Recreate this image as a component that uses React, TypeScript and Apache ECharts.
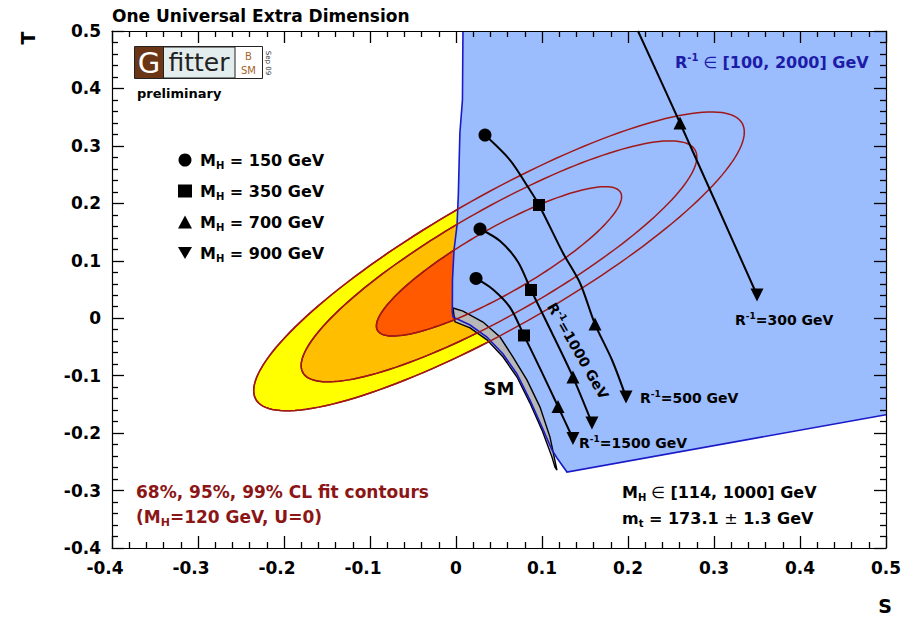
import { useEffect, useRef } from 'react';
import * as echarts from 'echarts';

// ---- axes -------------------------------------------------------------
const S_MIN = -0.4;
const S_MAX = 0.5;
const T_MIN = -0.4;
const T_MAX = 0.5;
const TICK_STEP = 0.1;
const S_TICK_LABELS = ['-0.4', '-0.3', '-0.2', '-0.1', '0', '0.1', '0.2', '0.3', '0.4', '0.5'];
const T_TICK_LABELS = ['-0.4', '-0.3', '-0.2', '-0.1', '0', '0.1', '0.2', '0.3', '0.4', '0.5'];

// ---- electroweak fit (M_H = 120 GeV, U = 0) ----------------------------
const FIT_CENTER = [0.05, 0.099];
const FIT_SIGMA = [0.094, 0.0857];
const FIT_CORR = 0.865;
// delta chi^2 for two parameters: 99 %, 95 %, 68 % CL (outermost first)
const CL_DCHI2 = [9.21, 5.99, 2.3];
const CL_FILL = ['#ffff00', '#ffbf00', '#ff5a00'];

// ---- UED prediction region, R^-1 in [100, 2000] GeV ----------------------
const UED_REGION = [
  [0.0081, 0.5], [0.0075, 0.38], [0.0045, 0.322], [0.0027, 0.2146], [0.0012, 0.162],
  [-0.0023, 0.1188], [-0.0041, 0.0665], [-0.0043, 0.0108], [-0.0035, 0.0021],
  [0.0163, -0.0118], [0.036, -0.0327], [0.0547, -0.0623], [0.0709, -0.0971],
  [0.086, -0.1424], [0.1, -0.1894], [0.1116, -0.2294], [0.1174, -0.2434],
  [0.1291, -0.2678], [0.5, -0.168], [0.5, 0.5],
];

// ---- SM prediction band, M_H in [114, 1000] GeV --------------------------
const SM_BAND_UPPER = [
  [-0.0035, 0.0178], [0.0081, 0.0125], [0.0314, -0.0066], [0.0512, -0.0327],
  [0.0663, -0.0676], [0.0826, -0.1077], [0.0977, -0.1547], [0.1093, -0.207], [0.1174, -0.2644],
];
const SM_BAND_LOWER = [
  [-0.0012, -0.0063], [0.0163, -0.0167], [0.036, -0.0376], [0.0547, -0.0676],
  [0.0709, -0.1024], [0.086, -0.1477], [0.1, -0.1948], [0.1116, -0.2418], [0.1151, -0.2592],
];

// ---- UED predictions at fixed R^-1 as M_H varies -------------------------
const CURVE_R300 = [[0.2116, 0.5], [0.2605, 0.3398], [0.35, 0.0404]];
const CURVE_R500 = [
  [0.0337, 0.3189], [0.0628, 0.2754], [0.0837, 0.2284], [0.0965, 0.1971], [0.1244, 0.1135],
  [0.1442, 0.0613], [0.1616, -0.0101], [0.1814, -0.0727], [0.1977, -0.1372],
];
const CURVE_R1000 = [
  [0.0279, 0.1553], [0.0512, 0.1344], [0.0721, 0.0979], [0.0872, 0.0491],
  [0.1116, -0.0258], [0.136, -0.1024], [0.1581, -0.1825],
];
const CURVE_R1500 = [
  [0.0233, 0.0693], [0.043, 0.0501], [0.0628, 0.0188], [0.0791, -0.03],
  [0.0988, -0.0909], [0.1186, -0.1536], [0.136, -0.2093],
];
const CURVES = [CURVE_R300, CURVE_R500, CURVE_R1000, CURVE_R1500];

// Higgs mass markers along the curves
const MH_VALUES = [150, 350, 700, 900];
const MH150_POINTS = [[0.0337, 0.3189], [0.0279, 0.1553], [0.0233, 0.0693]];
const MH350_POINTS = [[0.0965, 0.1971], [0.0872, 0.0491], [0.0791, -0.03]];
const MH700_POINTS = [[0.2605, 0.3398], [0.1616, -0.0101], [0.136, -0.1024], [0.1186, -0.1536]];
const MH900_POINTS = [[0.35, 0.0404], [0.1977, -0.1372], [0.1581, -0.1825], [0.136, -0.2093]];
const MH_POINTS = [MH150_POINTS, MH350_POINTS, MH700_POINTS, MH900_POINTS];
const MH_SYMBOLS = ['circle', 'rect', 'triangle', 'path://M0,0L10,0L5,8.7Z'];
const MH_SYMBOL_SIZES = [13, 12, 13, 13];

const BOLD = '"DejaVu Sans", "Liberation Sans", sans-serif';
const DARK_RED = '#8c1616';
const CONTOUR_RED = '#a01818';
const UED_FILL = '#9bbdfd';
const UED_EDGE = '#1a1ac8';

function contourPoints(dchi2: number) {
  const k = Math.sqrt(dchi2);
  const pts: number[][] = [];
  const n = 160;
  for (let i = 0; i < n; i++) {
    const a = (2 * Math.PI * i) / n;
    pts.push([
      FIT_CENTER[0] + k * FIT_SIGMA[0] * Math.cos(a),
      FIT_CENTER[1] + k * FIT_SIGMA[1] * (FIT_CORR * Math.cos(a) + Math.sqrt(1 - FIT_CORR * FIT_CORR) * Math.sin(a)),
    ]);
  }
  return pts;
}

function layer(name: string, z: number, render: (api: any) => any) {
  return {
    type: 'custom',
    name,
    coordinateSystem: 'cartesian2d',
    data: [[0, 0]],
    silent: true,
    z,
    renderItem: (_params: any, api: any) => render(api),
  };
}

const toPx = (api: any, pts: number[][]) => pts.map((p) => api.coord(p));

function label(text: string, x: number, y: number, size: number, extra: any = {}, rich?: any) {
  return {
    type: 'text',
    x,
    y,
    z: 100,
    silent: true,
    ...extra,
    style: {
      text,
      fontFamily: BOLD,
      fontWeight: 'bold',
      fontSize: size,
      fill: '#000',
      align: 'left',
      verticalAlign: 'middle',
      ...(extra.style || {}),
      rich,
    },
  };
}

function richSet(size: number, color: string) {
  return {
    b: { fontFamily: BOLD, fontWeight: 'bold', fontSize: size, fill: color },
    n: { fontFamily: BOLD, fontWeight: 'normal', fontSize: size, fill: color },
    sup: { fontFamily: BOLD, fontWeight: 'bold', fontSize: Math.round(size * 0.62), fill: color, padding: [0, 0, Math.round(size * 0.55), 0] },
    sub: { fontFamily: BOLD, fontWeight: 'bold', fontSize: Math.round(size * 0.62), fill: color, padding: [Math.round(size * 0.6), 0, 0, 0] },
  };
}

function axisBase(min: number, max: number) {
  return {
    type: 'value',
    min,
    max,
    interval: TICK_STEP,
    z: 10,
    axisLine: { show: true, onZero: false, lineStyle: { color: '#000', width: 1.2 } },
    axisTick: { show: true, inside: true, length: 12, lineStyle: { color: '#000', width: 1.3 } },
    minorTick: { show: true, splitNumber: 5, length: 6, lineStyle: { color: '#000', width: 1.3 } },
    splitLine: { show: false },
    minorSplitLine: { show: false },
  };
}

function buildOption() {
  const seriesNames = MH_VALUES.map((v) => `MH${v}`);
  const series: any[] = [];

  // filled CL contours
  series.push(
    layer('contour-fill', 1, (api) => ({
      type: 'group',
      children: CL_DCHI2.map((c, i) => ({
        type: 'polygon',
        shape: { points: toPx(api, contourPoints(c)) },
        style: { fill: CL_FILL[i], stroke: CONTOUR_RED, lineWidth: 1.5 },
      })),
    }))
  );
  // UED region
  series.push(
    layer('ued-region', 2, (api) => ({
      type: 'polygon',
      shape: { points: toPx(api, UED_REGION) },
      style: { fill: UED_FILL, stroke: 'none' },
    }))
  );
  // SM band
  series.push(
    layer('sm-band', 3, (api) => ({
      type: 'polygon',
      shape: { points: toPx(api, [...SM_BAND_UPPER, ...SM_BAND_LOWER.slice().reverse()]) },
      style: { fill: '#b8b8b8', stroke: '#000', lineWidth: 1.4 },
    }))
  );
  // UED region edge
  series.push(
    layer('ued-edge', 4, (api) => ({
      type: 'polyline',
      shape: { points: toPx(api, UED_REGION.slice(0, UED_REGION.length - 1)) },
      style: { fill: 'none', stroke: UED_EDGE, lineWidth: 1.6 },
    }))
  );
  // contour lines drawn again on top of the UED region
  series.push(
    layer('contour-lines', 5, (api) => ({
      type: 'group',
      children: CL_DCHI2.map((c) => ({
        type: 'polygon',
        shape: { points: toPx(api, contourPoints(c)) },
        style: { fill: 'none', stroke: CONTOUR_RED, lineWidth: 1.5 },
      })),
    }))
  );

  CURVES.forEach((pts, i) => {
    series.push({
      type: 'line',
      name: `curve${i}`,
      data: pts,
      smooth: 0.3,
      symbol: 'none',
      silent: true,
      z: 6,
      lineStyle: { color: '#000', width: 2 },
    });
  });

  MH_POINTS.forEach((pts, i) => {
    series.push({
      type: 'scatter',
      name: seriesNames[i],
      data: pts,
      symbol: MH_SYMBOLS[i],
      symbolSize: MH_SYMBOL_SIZES[i],
      silent: true,
      z: 7,
      itemStyle: { color: '#000', opacity: 1 },
    });
  });

  // negative labels are centred on their digits, not on the minus sign
  const xLabel = (v: number) => {
    const s = S_TICK_LABELS[Math.round((v - S_MIN) / TICK_STEP)] ?? '';
    return s.startsWith('-') ? `{neg|${s}}` : s;
  };
  const yLabel = (v: number) => T_TICK_LABELS[Math.round((v - T_MIN) / TICK_STEP)] ?? '';
  const tickFont = { fontFamily: BOLD, fontWeight: 'bold', fontSize: 17, color: '#000' };

  const blueRich = richSet(16, '#1c1ca8');
  const blackRich = richSet(14, '#000');
  const redRich = richSet(17, DARK_RED);
  const infoRich = richSet(16, '#000');

  const graphic: any[] = [
    label('One Universal Extra Dimension', 112, 16, 17),
    // Gfitter logo
    { type: 'rect', z: 100, shape: { x: 134.5, y: 46.5, width: 128, height: 32 }, style: { fill: '#fff', stroke: '#222', lineWidth: 1 } },
    { type: 'rect', z: 101, shape: { x: 135, y: 47, width: 28, height: 31 }, style: { fill: '#6a3616' } },
    { type: 'rect', z: 101, shape: { x: 163.5, y: 47, width: 71.5, height: 31 }, style: { fill: '#e4eded', stroke: '#222', lineWidth: 1 } },
    label('G', 149, 63, 29, { z: 102, style: { fill: '#fff', fontWeight: 'normal', align: 'center' } }),
    label('fitter', 199, 62, 25, { z: 102, style: { fill: '#222', fontWeight: 'normal', align: 'center' } }),
    label('B', 248.5, 56, 10, { z: 102, style: { fill: '#a5652a', fontWeight: 'normal', align: 'center' } }),
    label('SM', 248.5, 70, 10, { z: 102, style: { fill: '#a5652a', fontWeight: 'normal', align: 'center' } }),
    label('Sep 09', 268, 63, 7, { z: 102, rotation: -Math.PI / 2, style: { fill: '#333', fontWeight: 'normal', align: 'center' } }),
    label('preliminary', 137, 93, 13),

    label('{b|R}{sup|-1}{n| \u2208 }{b|[100, 2000] GeV}', 675, 62, 16, { style: { fill: '#1c1ca8' } }, blueRich),
    label('{b|R}{sup|-1}{b|=300 GeV}', 735, 320, 14, {}, blackRich),
    label('{b|R}{sup|-1}{b|=500 GeV}', 640, 398, 14, {}, blackRich),
    label('{b|R}{sup|-1}{b|=1500 GeV}', 579, 443, 14, {}, blackRich),
    label('{b|R}{sup|-1}{b|=1000 GeV}', 578, 351, 14, { rotation: -1.05, style: { align: 'center' } }, blackRich),
    label('SM', 499, 388, 18, { style: { align: 'center' } }),

    label('68%, 95%, 99% CL fit contours', 136, 492, 17, { style: { fill: DARK_RED } }),
    label('{b|(M}{sub|H}{b|=120 GeV, U=0)}', 136, 517, 17, { style: { fill: DARK_RED } }, redRich),
    label('{b|M}{sub|H}{n| \u2208 }{b|[114, 1000] GeV}', 622, 492, 16, {}, infoRich),
    label('{b|m}{sub|t}{b| = 173.1 }{n|\u00b1}{b| 1.3 GeV}', 622, 518, 16, {}, infoRich),

    label('S', 885, 606, 19, { style: { align: 'center' } }),
    label('T', 28, 38, 19, { rotation: Math.PI / 2, style: { align: 'center' } }),
  ];

  return {
    animation: false,
    backgroundColor: '#fff',
    grid: { left: 112, right: 24, top: 31, bottom: 78, containLabel: false },
    xAxis: [
      {
        ...axisBase(S_MIN, S_MAX),
        position: 'bottom',
        axisLabel: {
          ...tickFont,
          margin: 11,
          formatter: xLabel,
          rich: { neg: { ...tickFont, padding: [0, 14, 0, 0] } },
        },
      },
      { ...axisBase(S_MIN, S_MAX), position: 'top', axisLabel: { show: false } },
    ],
    yAxis: [
      { ...axisBase(T_MIN, T_MAX), position: 'left', axisLabel: { ...tickFont, margin: 11, formatter: yLabel } },
      { ...axisBase(T_MIN, T_MAX), position: 'right', axisLabel: { show: false } },
    ],
    legend: {
      data: seriesNames,
      orient: 'vertical',
      left: 173,
      top: 147,
      itemWidth: 14,
      itemHeight: 13,
      itemGap: 13,
      selectedMode: false,
      formatter: (name: string) => `{b|M}{sub|H}{b| = ${name.slice(2)} GeV}`,
      textStyle: {
        padding: [0, 0, 0, 3],
        rich: {
          b: { fontFamily: BOLD, fontWeight: 'bold', fontSize: 16, color: '#000' },
          sub: { fontFamily: BOLD, fontWeight: 'bold', fontSize: 10, color: '#000', padding: [10, 0, 0, 0] },
        },
      },
    },
    series,
    graphic,
  };
}

export default function App() {
  const ref = useRef<HTMLDivElement>(null);
  useEffect(() => {
    const chart = echarts.init(ref.current!, null, { renderer: 'svg' });
    chart.setOption(buildOption() as any);
    return () => chart.dispose();
  }, []);
  return <div ref={ref} style={{ position: 'fixed', left: 0, top: 0, width: 910, height: 626 }} />;
}
